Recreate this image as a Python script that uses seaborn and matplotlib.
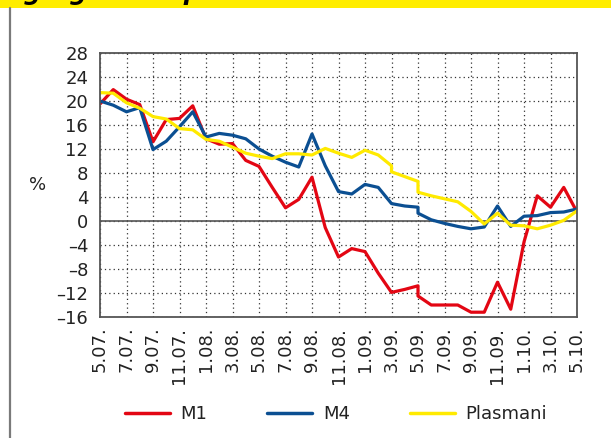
import matplotlib
matplotlib.use("Agg")
import matplotlib.pyplot as plt
import seaborn as sns
import pandas as pd
from matplotlib.patches import Rectangle
from matplotlib.lines import Line2D

# ---- data ----
tick_labels = ["5.07.", "7.07.", "9.07.", "11.07.", "1.08.", "3.08.", "5.08.", "7.08.",
               "9.08.", "11.08.", "1.09.", "3.09.", "5.09.", "7.09.", "9.09.", "11.09.",
               "1.10.", "3.10.", "5.10."]
y_ticks = [28, 24, 20, 16, 12, 8, 4, 0, -4, -8, -12, -16]

# month index from 5.07 (0) to 5.10 (36); repeated index = break in the series
m1_x = list(range(0, 25)) + [24] + list(range(25, 37))
m1 = [19.5, 21.9, 20.3, 19.4, 13.2, 16.9, 17.1, 19.2, 13.7, 12.8,
      12.9, 10.1, 9.1, 5.6, 2.2, 3.6, 7.3, -1.1, -6.0, -4.6,
      -5.1, -8.7, -11.9, -11.4, -10.8, -12.5,
      -14.0, -14.0, -14.0, -15.2, -15.2, -10.2, -14.7, -3.5, 4.2, 2.3, 5.6, 1.5]

m4_x = list(range(0, 25)) + [24] + list(range(25, 37))
m4 = [20.0, 19.3, 18.2, 18.9, 11.9, 13.3, 15.7, 18.2, 14.0, 14.6,
      14.3, 13.7, 12.0, 10.8, 9.8, 9.0, 14.5, 9.2, 4.9, 4.5,
      6.1, 5.6, 2.9, 2.5, 2.3, 1.3,
      0.2, -0.4, -0.9, -1.3, -1.0, 2.5, -0.9, 0.8, 0.9, 1.4, 1.5, 2.0]

pl_x = list(range(0, 23)) + [22] + [23, 24, 24] + list(range(25, 37))
plasmani = [21.4, 21.3, 19.7, 18.8, 17.4, 17.0, 15.4, 15.2, 13.6, 13.3,
            12.3, 11.3, 10.8, 10.4, 11.2, 11.2, 11.0, 12.1, 11.3, 10.6,
            11.8, 11.0, 9.2, 8.2, 7.4, 6.6, 4.8,
            4.2, 3.7, 3.2, 1.6, -0.5, 1.3, -0.7, -0.8, -1.3, -0.7, 0.1, 1.7]

series_names = ["M1", "M4", "Plasmani"]
colors = {"M1": "#E30613", "M4": "#0B4F92", "Plasmani": "#FFEA00"}

frames = []
for name, xs, ys in [("M1", m1_x, m1), ("M4", m4_x, m4), ("Plasmani", pl_x, plasmani)]:
    frames.append(pd.DataFrame({"x": xs, "value": ys, "series": name,
                                "order": range(len(xs))}))
df = pd.concat(frames, ignore_index=True)

# ---- figure ----
sns.set_style("white")
plt.rcParams["font.family"] = ["DejaVu Sans"]
W, H = 611, 438
fig = plt.figure(figsize=(W / 100, H / 100), dpi=100)
ax = fig.add_axes([100 / W, 1 - 317 / H, (577 - 100) / W, (317 - 53) / H])

sns.lineplot(data=df, x="x", y="value", hue="series", hue_order=series_names,
             palette=colors, estimator=None, sort=False, units="series",
             linewidth=2.3, ax=ax, legend=False)

ax.set_xlim(0, 36)
ax.set_ylim(-16, 28)
ax.set_xticks(range(0, 37, 2))
ax.set_xticklabels(tick_labels, rotation=90, fontsize=13, color="#222222")
ax.set_yticks(y_ticks)
ax.set_yticklabels([str(v).replace("-", "\u2013") for v in y_ticks], fontsize=13,
                   color="#222222")
ax.tick_params(axis="both", length=0)
ax.tick_params(axis="y", pad=8.5)
ax.tick_params(axis="x", pad=7)
ax.set_xlabel("")
ax.set_ylabel("")

ax.grid(True, color="#333333", linestyle=(0, (1, 2.5)), linewidth=0.9)
ax.set_axisbelow(True)
ax.axhline(0, color="#555555", linewidth=1.2, zorder=1.5)
for s in ax.spines.values():
    s.set_visible(True)
    s.set_color("#555555")
    s.set_linewidth(1.3)

fig.text(38 / W, 1 - 185 / H, "%", fontsize=13, ha="center", va="center",
         color="#222222")

# legend
handles = [Line2D([0], [0], color=colors[n], linewidth=2.5) for n in series_names]
fig.legend(handles, series_names, loc="center", bbox_to_anchor=(336 / W, 1 - 414 / H),
           ncol=3, frameon=False, fontsize=13, handlelength=2.5, handletextpad=0.6,
           columnspacing=3.3, labelcolor="#222222")

# banner (title runs off the top edge, as in the reference) and left rule
fig.patches.append(Rectangle((0, 1 - 8 / H), 1, 8 / H, transform=fig.transFigure,
                             facecolor="#FFED00", edgecolor="none", zorder=0))
fig.text(6 / W, 1 + 0.3 / H, "Agregātu un plašās naudas", fontsize=17.5,
         fontweight="bold", fontstyle="italic", va="baseline", ha="left", color="black")
fig.add_artist(Line2D([9.5 / W, 9.5 / W], [0, 1 - 8 / H], transform=fig.transFigure,
                      color="#7a7a7a", linewidth=1.6))

fig.savefig("out.png", dpi=100)
